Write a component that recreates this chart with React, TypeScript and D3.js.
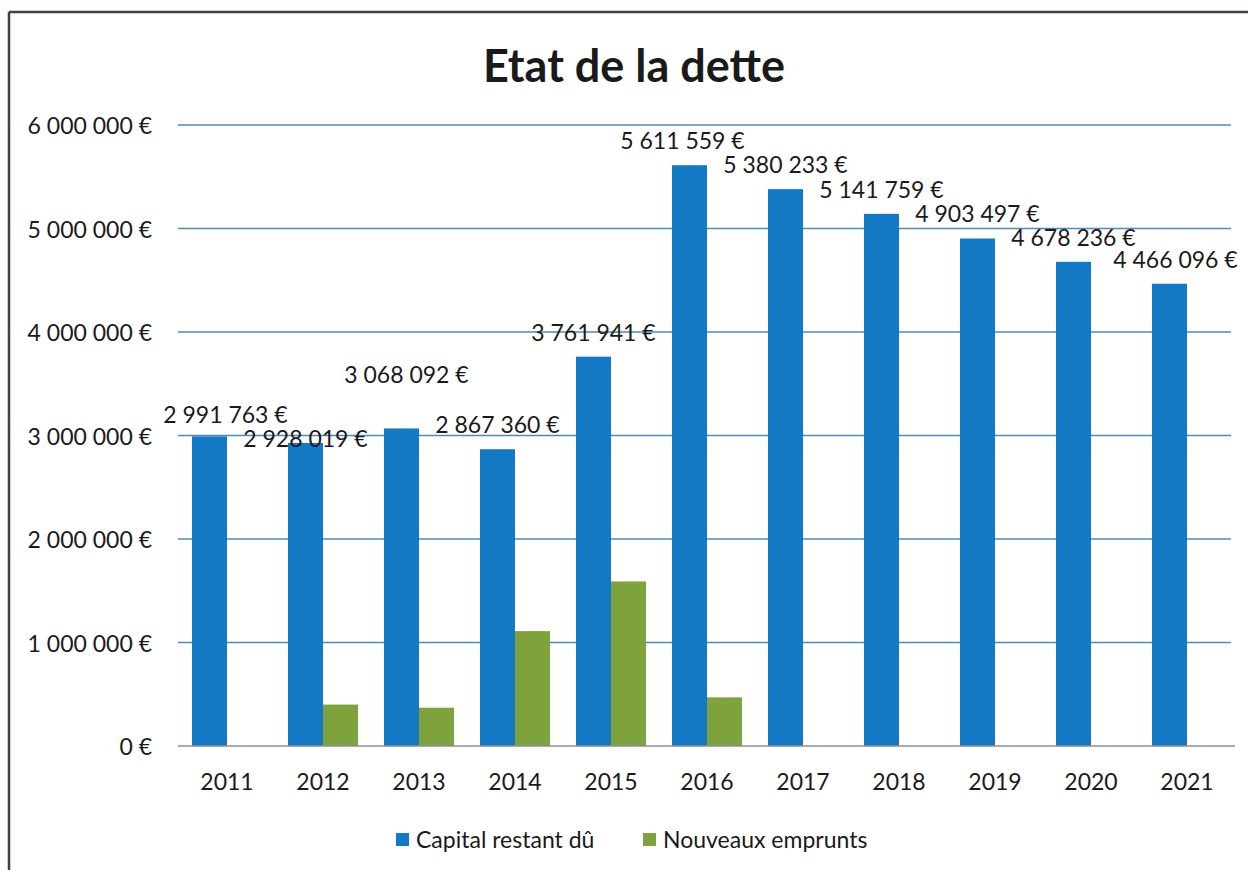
import React from "react";
import * as d3 from "d3";

const years = ["2011", "2012", "2013", "2014", "2015", "2016", "2017", "2018", "2019", "2020", "2021"];
const capitalRestant = [2991763, 2928019, 3068092, 2867360, 3761941, 5611559, 5380233, 5141759, 4903497, 4678236, 4466096];
const nouveauxEmprunts = [0, 400000, 370000, 1110000, 1590000, 470000, 0, 0, 0, 0, 0];
const yTicks = [0, 1000000, 2000000, 3000000, 4000000, 5000000, 6000000];
const seriesNames = ["Capital restant dû", "Nouveaux emprunts"];

// manual label nudges (style only), keyed by year: [dx, dy]
const labelNudge: Record<string, [number, number]> = {
  "2011": [16, 3],
  "2012": [0, 20],
  "2013": [5, -29],
  "2016": [-7, 0],
  "2021": [6, 0],
};

const W = 1248;
const H = 870;
const COLORS = ["#1479c4", "#7fa33c"];
const FONT = "Lato, 'Open Sans', sans-serif";
const FS = 23;

const locale = d3.formatLocale({
  decimal: ",",
  thousands: "\u00a0",
  grouping: [3],
  currency: ["", "\u00a0€"],
});
const fmt = locale.format("$,.0f");

export default function App() {
  const x = d3.scaleBand<string>().domain(years).range([179, 1235]).paddingInner(0.27).paddingOuter(0.135);
  const x1 = d3.scaleBand<number>().domain([0, 1]).range([0, x.bandwidth()]);
  const y = d3.scaleLinear().domain([0, 6000000]).range([746, 125]);

  return (
    <svg
      width={W}
      height={H}
      style={{ position: "absolute", left: 0, top: 0, background: "#fff" }}
      fontFamily={FONT}
    >
      {/* frame */}
      <line x1={9} x2={W} y1={12} y2={12} stroke="#39424f" strokeWidth={2.5} />
      <line x1={9} x2={9} y1={12} y2={H} stroke="#39424f" strokeWidth={2.5} />

      <text x={634} y={65} textAnchor="middle" dominantBaseline="central" fontSize={45} fontWeight="bold" fill="#1a1a1a">
        Etat de la dette
      </text>

      {/* gridlines */}
      {yTicks.map((t) => (
        <g key={t}>
          {t !== 0 && (
            <line x1={178} x2={1231} y1={y(t)} y2={y(t)} stroke="#5289b2" strokeWidth={1.3} />
          )}
          <text x={152} y={y(t)} textAnchor="end" dominantBaseline="central" fontSize={FS} fill="#1a1a1a">
            {fmt(t)}
          </text>
        </g>
      ))}

      {/* bars */}
      {years.map((yr, i) => {
        const vals = [capitalRestant[i], nouveauxEmprunts[i]];
        const bx = x(yr)!;
        return (
          <g key={yr}>
            {vals.map((v, s) =>
              v > 0 ? (
                <rect
                  key={s}
                  x={bx + x1(s)!}
                  y={y(v)}
                  width={x1.bandwidth()}
                  height={y(0) - y(v)}
                  fill={COLORS[s]}
                />
              ) : null
            )}
            <text x={bx + x.bandwidth() / 2} y={781} textAnchor="middle" dominantBaseline="central" fontSize={FS} fill="#1a1a1a">
              {yr}
            </text>
          </g>
        );
      })}

      {/* zero axis */}
      <line x1={178} x2={1235} y1={y(0)} y2={y(0)} stroke="#8a8f96" strokeWidth={1.5} />

      {/* data labels */}
      {years.map((yr, i) => {
        const v = capitalRestant[i];
        const [dx, dy] = labelNudge[yr] || [0, 0];
        const cx = x(yr)! + x1(0)! + x1.bandwidth() / 2;
        return (
          <text
            key={yr}
            x={cx + dx}
            y={y(v) - 25 + dy}
            textAnchor="middle"
            dominantBaseline="central"
            fontSize={FS}
            fill="#1a1a1a"
          >
            {fmt(v)}
          </text>
        );
      })}

      {/* legend */}
      <g>
        <rect x={396} y={833} width={13} height={13} fill={COLORS[0]} />
        <text x={416} y={839} dominantBaseline="central" fontSize={FS} fill="#1a1a1a">
          {seriesNames[0]}
        </text>
        <rect x={643} y={833} width={13} height={13} fill={COLORS[1]} />
        <text x={663} y={839} dominantBaseline="central" fontSize={FS} fill="#1a1a1a">
          {seriesNames[1]}
        </text>
      </g>
    </svg>
  );
}
